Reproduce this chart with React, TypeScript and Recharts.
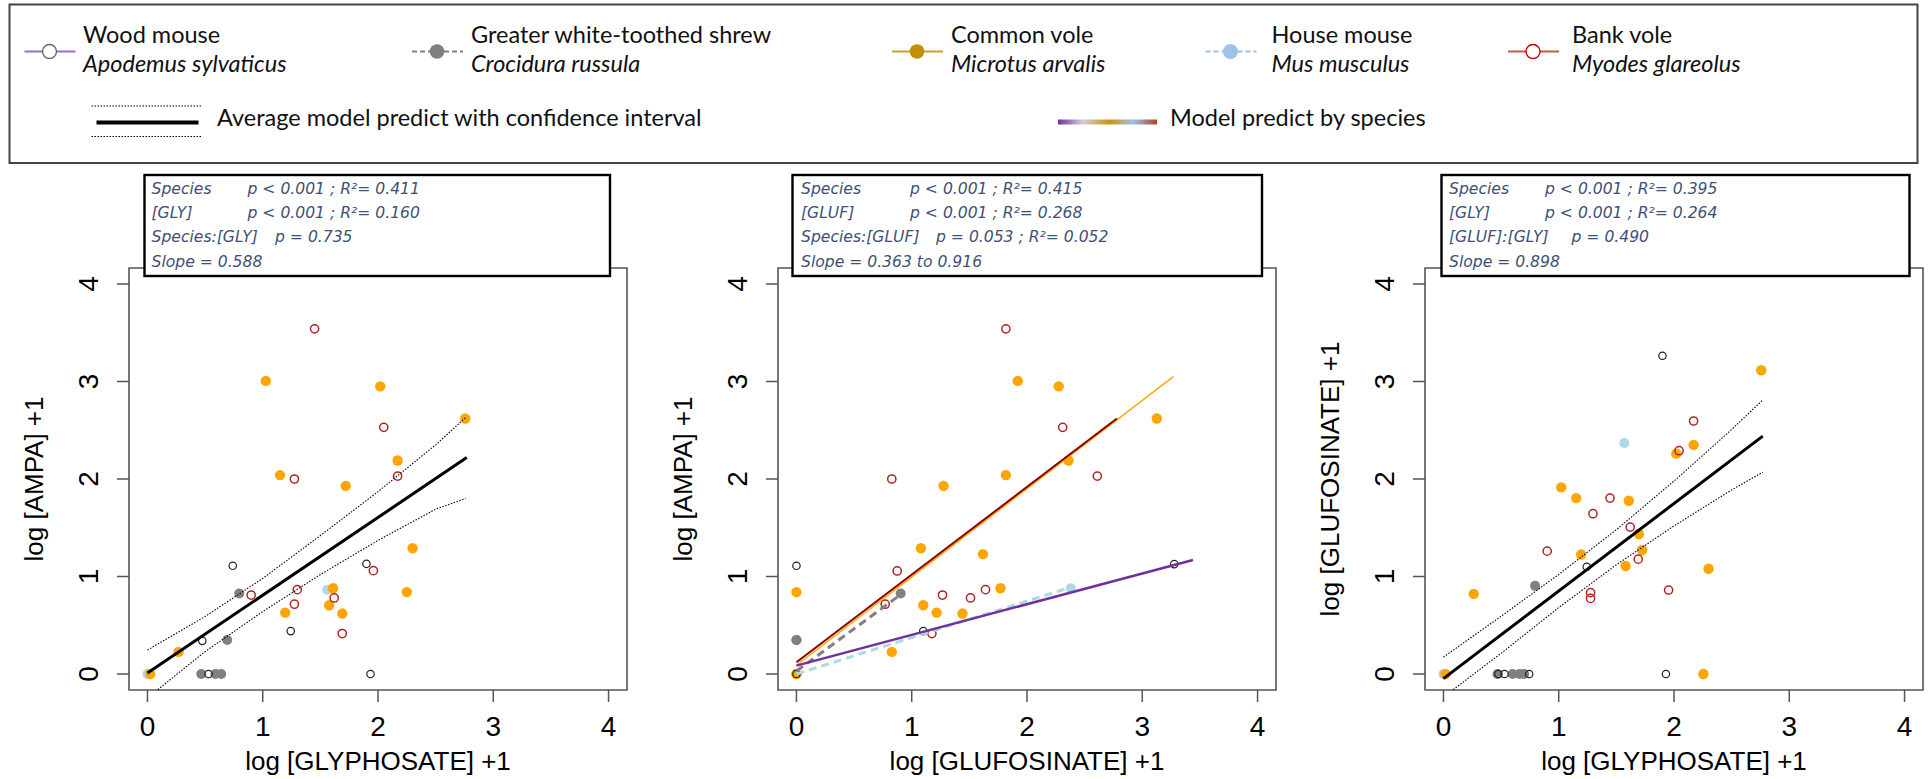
import React from 'react';
import { ComposedChart, XAxis, YAxis, Scatter, ReferenceArea } from 'recharts';

type Pt = [number, number];

// ---------- Panel 1 : AMPA vs GLYPHOSATE ----------
const p1Wood: Pt[] = [[0.74, 1.11], [1.9, 1.13], [0.476, 0.34], [1.243, 0.44], [1.935, 0], [0.53, 0]];
const p1Shrew: Pt[] = [[0.796, 0.826], [0.692, 0.348], [0.467, 0], [0.59, 0], [0.64, 0]];
const p1Vole: Pt[] = [[1.027, 3.006], [2.02, 2.95], [2.757, 2.62], [2.17, 2.19], [1.15, 2.04], [1.72, 1.93], [2.3, 1.29], [2.25, 0.84], [1.61, 0.88], [1.577, 0.705], [1.195, 0.63], [1.69, 0.62], [0.27, 0.227], [0.024, 0]];
const p1House: Pt[] = [[1.56, 0.865], [0, 0]];
const p1Bank: Pt[] = [[1.45, 3.54], [2.05, 2.53], [1.275, 2.0], [2.17, 2.03], [1.96, 1.06], [0.9, 0.81], [1.3, 0.865], [1.62, 0.78], [1.275, 0.716], [1.69, 0.415]];
const p1Fit: Pt[] = [[0, 0.01], [2.77, 2.22]];
const p1Upper: Pt[] = [[0, 0.245], [0.5, 0.59], [1.0, 0.98], [1.5, 1.42], [2.0, 1.87], [2.5, 2.35], [2.76, 2.63]];
const p1Lower: Pt[] = [[0.09, -0.16], [0.5, 0.23], [1.0, 0.64], [1.5, 1.02], [2.0, 1.37], [2.5, 1.69], [2.76, 1.8]];

// ---------- Panel 2 : AMPA vs GLUFOSINATE ----------
const p2Wood: Pt[] = [[0, 1.11], [3.277, 1.127], [1.1, 0.44], [0, 0]];
const p2Shrew: Pt[] = [[0.904, 0.826], [0, 0.348], [0, 0.348], [0, 0]];
const p2Vole: Pt[] = [[1.92, 3.006], [2.275, 2.95], [3.126, 2.62], [2.36, 2.19], [1.817, 2.04], [1.276, 1.93], [1.08, 1.29], [1.618, 1.23], [1.77, 0.88], [0, 0.84], [1.1, 0.705], [1.216, 0.63], [1.44, 0.62], [0.827, 0.227], [0, 0]];
const p2House: Pt[] = [[2.38, 0.88], [0, 0]];
const p2Bank: Pt[] = [[1.817, 3.54], [2.31, 2.53], [0.827, 2.0], [2.61, 2.03], [0.874, 1.057], [1.267, 0.81], [1.64, 0.865], [1.51, 0.78], [0.77, 0.716], [1.175, 0.415]];
const p2LineVole: Pt[] = [[0, 0.09], [3.27, 3.05]];
const p2LineBank: Pt[] = [[0, 0.12], [2.78, 2.62]];
const p2LineShrew: Pt[] = [[0, 0.03], [0.91, 0.82]];
const p2LineHouse: Pt[] = [[0, 0], [2.38, 0.89]];
const p2LineWood: Pt[] = [[0, 0.086], [3.44, 1.17]];

// ---------- Panel 3 : GLUFOSINATE vs GLYPHOSATE ----------
const p3Wood: Pt[] = [[1.9, 3.264], [1.243, 1.1], [1.93, 0], [0.53, 0], [0.744, 0], [0.476, 0]];
const p3Shrew: Pt[] = [[0.795, 0.904], [0.469, 0], [0.6, 0], [0.66, 0], [0.7, 0]];
const p3Vole: Pt[] = [[2.757, 3.115], [2.17, 2.35], [2.02, 2.26], [1.022, 1.914], [1.152, 1.804], [1.608, 1.777], [1.696, 1.436], [1.194, 1.225], [1.723, 1.272], [1.58, 1.108], [2.3, 1.08], [0.263, 0.822], [2.255, 0], [0.018, 0]];
const p3House: Pt[] = [[1.569, 2.368], [0, 0]];
const p3Bank: Pt[] = [[2.17, 2.595], [2.044, 2.29], [1.445, 1.804], [1.297, 1.644], [1.62, 1.507], [0.9, 1.26], [1.69, 1.178], [1.276, 0.834], [1.276, 0.775], [1.953, 0.861]];
const p3Fit: Pt[] = [[0, -0.047], [2.77, 2.44]];
const p3Upper: Pt[] = [[0, 0.173], [0.5, 0.592], [1.0, 1.021], [1.5, 1.48], [2.0, 1.979], [2.5, 2.508], [2.77, 2.81]];
const p3Lower: Pt[] = [[0.085, -0.16], [0.5, 0.212], [1.0, 0.681], [1.5, 1.12], [2.0, 1.519], [2.5, 1.888], [2.77, 2.07]];

// ---------- Axis ticks / labels ----------
const axisTicks = [0, 1, 2, 3, 4];
const xTitles = ['log [GLYPHOSATE] +1', 'log [GLUFOSINATE] +1', 'log [GLYPHOSATE] +1'];
const yTitles = ['log [AMPA] +1', 'log [AMPA] +1', 'log [GLUFOSINATE] +1'];

const statRows1 = [['Species', 'p < 0.001 ; R\u00B2= 0.411'], ['[GLY]', 'p < 0.001 ; R\u00B2= 0.160'], ['Species:[GLY]', 'p = 0.735'], ['Slope = 0.588', '']];
const statRows2 = [['Species', 'p < 0.001 ; R\u00B2= 0.415'], ['[GLUF]', 'p < 0.001 ; R\u00B2= 0.268'], ['Species:[GLUF]', 'p = 0.053 ; R\u00B2= 0.052'], ['Slope = 0.363 to 0.916', '']];
const statRows3 = [['Species', 'p < 0.001 ; R\u00B2= 0.395'], ['[GLY]', 'p < 0.001 ; R\u00B2= 0.264'], ['[GLUF]:[GLY]', 'p = 0.490'], ['Slope = 0.898', '']];

const legendSpecies = [
  { common: 'Wood mouse', latin: 'Apodemus sylvaticus' },
  { common: 'Greater white-toothed shrew', latin: 'Crocidura russula' },
  { common: 'Common vole', latin: 'Microtus arvalis' },
  { common: 'House mouse', latin: 'Mus musculus' },
  { common: 'Bank vole', latin: 'Myodes glareolus' },
];

// ---------- styling ----------
const AXIS_FONT = "'Liberation Sans', Arial, sans-serif";
const LEG_FONT = "Lato, 'Open Sans', sans-serif";
const STAT_FONT = "'DejaVu Sans', Verdana, sans-serif";
const STAT_COLOR = '#3F5075';
const C_VOLE = '#FFA500';
const C_SHREW = '#808080';
const C_HOUSE = '#ADD8E6';
const C_BANK = '#B22222';
const C_WOOD = '#222222';

const LEFT_PAD = 129;
const BOX_W = 498;
const PLOT_TOP = 268;
const PLOT_BOTTOM = 690;
const H = 779;

const toObj = (a: Pt[]) => a.map(([x, y]) => ({ x, y }));

const XTick = (props: any) => (
  <text x={props.x} y={736} textAnchor="middle" fontSize={28} fontFamily={AXIS_FONT} fill="#000">
    {props.payload.value}
  </text>
);
const YTick = (props: any) => {
  const x = LEFT_PAD - 31;
  return (
    <text x={x} y={props.y} transform={`rotate(-90 ${x} ${props.y})`} textAnchor="middle" fontSize={28} fontFamily={AXIS_FONT} fill="#000">
      {props.payload.value}
    </text>
  );
};

const openCircle = (color: string, r: number, sw: number) => (p: any) => (
  <circle cx={p.cx} cy={p.cy} r={r} fill="none" stroke={color} strokeWidth={sw} />
);
const dot = (color: string, r: number) => (p: any) => <circle cx={p.cx} cy={p.cy} r={r} fill={color} />;
const noShape = () => <g />;

type LineSpec = { data: Pt[]; stroke: string; width: number; dash?: string };
type PanelProps = {
  boxLeft: number;
  wood: Pt[];
  shrew: Pt[];
  vole: Pt[];
  house: Pt[];
  bank: Pt[];
  lines: LineSpec[];
};

function Panel({ boxLeft, wood, shrew, vole, house, bank, lines }: PanelProps) {
  return (
    <div style={{ position: 'absolute', left: boxLeft - LEFT_PAD, top: 0 }}>
      <ComposedChart width={LEFT_PAD + BOX_W + 6} height={H} margin={{ top: PLOT_TOP, right: 6, bottom: 0, left: 0 }}>
        <XAxis
          type="number"
          dataKey="x"
          domain={[-0.16, 4.16]}
          ticks={axisTicks}
          interval={0}
          allowDataOverflow
          axisLine={false}
          tickSize={12}
          tickLine={{ stroke: '#555', strokeWidth: 1.5 }}
          tick={XTick}
          height={H - PLOT_BOTTOM}
        />
        <YAxis
          type="number"
          dataKey="y"
          domain={[-0.164, 4.164]}
          ticks={axisTicks}
          interval={0}
          allowDataOverflow
          axisLine={false}
          tickSize={12}
          tickLine={{ stroke: '#555', strokeWidth: 1.5 }}
          tick={YTick}
          width={LEFT_PAD}
        />
        <ReferenceArea x1={-0.16} x2={4.16} y1={-0.164} y2={4.164} fill="none" fillOpacity={0} stroke="#555" strokeWidth={1.6} ifOverflow="visible" />
        <Scatter data={toObj(house)} shape={dot(C_HOUSE, 5)} isAnimationActive={false} />
        <Scatter data={toObj(shrew)} shape={dot(C_SHREW, 5)} isAnimationActive={false} />
        <Scatter data={toObj(vole)} shape={dot(C_VOLE, 5.2)} isAnimationActive={false} />
        <Scatter data={toObj(wood)} shape={openCircle(C_WOOD, 3.7, 1.2)} isAnimationActive={false} />
        <Scatter data={toObj(bank)} shape={openCircle(C_BANK, 4.1, 1.5)} isAnimationActive={false} />
        {lines.map((l, i) => (
          <Scatter
            key={i}
            data={toObj(l.data)}
            shape={noShape}
            line={{ stroke: l.stroke, strokeWidth: l.width, strokeDasharray: l.dash }}
            isAnimationActive={false}
          />
        ))}
      </ComposedChart>
    </div>
  );
}

const ciLines = (fit: Pt[], up: Pt[], lo: Pt[]): LineSpec[] => [
  { data: up, stroke: '#000', width: 1.1, dash: '1.5 1.5' },
  { data: lo, stroke: '#000', width: 1.1, dash: '1.5 1.5' },
  { data: fit, stroke: '#000', width: 3 },
];

const panels = [
  { boxLeft: 129, statX: 144.5, statW: 465.5, labelX: 151.5, valX: 247.5, val3X: 275, rows: statRows1 },
  { boxLeft: 778, statX: 792.5, statW: 469.5, labelX: 801, valX: 910, val3X: 936, rows: statRows2 },
  { boxLeft: 1425, statX: 1441.5, statW: 468, labelX: 1449, valX: 1545, val3X: 1571.5, rows: statRows3 },
];

const legendSymbolX = [49.5, 437, 917, 1230.5, 1533];
const legendTextX = [83, 471, 951, 1271.5, 1572];

function LegendSymbol({ i, cx }: { i: number; cx: number }) {
  const y = 51.5;
  const x1 = cx - 25;
  const x2 = cx + 26;
  if (i === 0)
    return (
      <g>
        <line x1={x1} x2={x2} y1={y} y2={y} stroke="#9B6FCF" strokeWidth={2} />
        <circle cx={cx} cy={y} r={7} fill="#fff" stroke="#666" strokeWidth={1.4} />
      </g>
    );
  if (i === 1)
    return (
      <g>
        <line x1={x1} x2={x2} y1={y} y2={y} stroke="#808080" strokeWidth={2} strokeDasharray="5 3" />
        <circle cx={cx} cy={y} r={7.3} fill="#808080" />
      </g>
    );
  if (i === 2)
    return (
      <g>
        <line x1={x1} x2={x2} y1={y} y2={y} stroke="#C9A227" strokeWidth={2} />
        <circle cx={cx} cy={y} r={7.3} fill="#BF9000" />
      </g>
    );
  if (i === 3)
    return (
      <g>
        <line x1={x1} x2={x2} y1={y} y2={y} stroke="#9DC3E6" strokeWidth={2} strokeDasharray="5 3" />
        <circle cx={cx} cy={y} r={7.6} fill="#9DC3E6" />
      </g>
    );
  return (
    <g>
      <line x1={x1} x2={x2} y1={y} y2={y} stroke="#C0603E" strokeWidth={2} />
      <circle cx={cx} cy={y} r={7} fill="#fff" stroke="#C00000" strokeWidth={1.4} />
    </g>
  );
}

function Overlay() {
  return (
    <svg width={1930} height={H} style={{ position: 'absolute', left: 0, top: 0, pointerEvents: 'none' }}>
      <defs>
        <linearGradient id="spGrad" x1="0" x2="1" y1="0" y2="0">
          <stop offset="0" stopColor="#7030A0" />
          <stop offset="0.25" stopColor="#D2CCD8" />
          <stop offset="0.52" stopColor="#C9960C" />
          <stop offset="0.76" stopColor="#9DC3E6" />
          <stop offset="1" stopColor="#A9441E" />
        </linearGradient>
      </defs>
      {/* legend */}
      <rect x={9.5} y={4.5} width={1908} height={158.5} fill="none" stroke="#444" strokeWidth={2} />
      {legendSpecies.map((s, i) => (
        <g key={i}>
          <LegendSymbol i={i} cx={legendSymbolX[i]} />
          <text x={legendTextX[i]} y={42.5} fontSize={23.5} fontFamily={LEG_FONT} fill="#111">{s.common}</text>
          <text x={legendTextX[i]} y={71.5} fontSize={23.5} fontFamily={LEG_FONT} fontStyle="italic" fill="#111">{s.latin}</text>
        </g>
      ))}
      <line x1={91.5} x2={202.5} y1={106} y2={106} stroke="#000" strokeWidth={1} strokeDasharray="1.5 1.5" />
      <line x1={96.5} x2={198.5} y1={122.5} y2={122.5} stroke="#000" strokeWidth={4} />
      <line x1={91.5} x2={202.5} y1={136.5} y2={136.5} stroke="#000" strokeWidth={1} strokeDasharray="1.5 1.5" />
      <text x={217} y={126} fontSize={23.5} fontFamily={LEG_FONT} fill="#111">Average model predict with confidence interval</text>
      <rect x={1058} y={119.5} width={99} height={5} fill="url(#spGrad)" />
      <text x={1170} y={126} fontSize={23.5} fontFamily={LEG_FONT} fill="#111">Model predict by species</text>

      {/* stat boxes and axis titles */}
      {panels.map((p, i) => (
        <g key={i}>
          <rect x={p.statX} y={175} width={p.statW} height={101} fill="#fff" stroke="#000" strokeWidth={2.4} />
          {p.rows.map((r, j) => (
            <g key={j}>
              <text x={p.labelX} y={193.5 + j * 24.4} fontSize={15.6} fontStyle="italic" fontFamily={STAT_FONT} fill={STAT_COLOR}>{r[0]}</text>
              {r[1] ? (
                <text x={j === 2 ? p.val3X : p.valX} y={193.5 + j * 24.4} fontSize={15.6} fontStyle="italic" fontFamily={STAT_FONT} fill={STAT_COLOR}>{r[1]}</text>
              ) : null}
            </g>
          ))}
          <text x={p.boxLeft + BOX_W / 2} y={770} textAnchor="middle" fontSize={26} fontFamily={AXIS_FONT} fill="#000">{xTitles[i]}</text>
          <text
            x={p.boxLeft - 86}
            y={(PLOT_TOP + PLOT_BOTTOM) / 2}
            transform={`rotate(-90 ${p.boxLeft - 86} ${(PLOT_TOP + PLOT_BOTTOM) / 2})`}
            textAnchor="middle"
            fontSize={26}
            fontFamily={AXIS_FONT}
            fill="#000"
          >
            {yTitles[i]}
          </text>
        </g>
      ))}
    </svg>
  );
}

export default function App() {
  return (
    <div style={{ position: 'absolute', left: 0, top: 0, width: 1930, height: H, background: '#fff', overflow: 'hidden' }}>
      <Panel
        boxLeft={129}
        wood={p1Wood}
        shrew={p1Shrew}
        vole={p1Vole}
        house={p1House}
        bank={p1Bank}
        lines={ciLines(p1Fit, p1Upper, p1Lower)}
      />
      <Panel
        boxLeft={778}
        wood={p2Wood}
        shrew={p2Shrew}
        vole={p2Vole}
        house={p2House}
        bank={p2Bank}
        lines={[
          { data: p2LineVole, stroke: '#FFA500', width: 1.5 },
          { data: p2LineBank, stroke: '#8B0000', width: 2 },
          { data: p2LineShrew, stroke: '#808080', width: 3, dash: '8 5' },
          { data: p2LineHouse, stroke: '#ADD8E6', width: 3, dash: '8 5' },
          { data: p2LineWood, stroke: '#7030A0', width: 2.5 },
        ]}
      />
      <Panel
        boxLeft={1425}
        wood={p3Wood}
        shrew={p3Shrew}
        vole={p3Vole}
        house={p3House}
        bank={p3Bank}
        lines={ciLines(p3Fit, p3Upper, p3Lower)}
      />
      <Overlay />
    </div>
  );
}
